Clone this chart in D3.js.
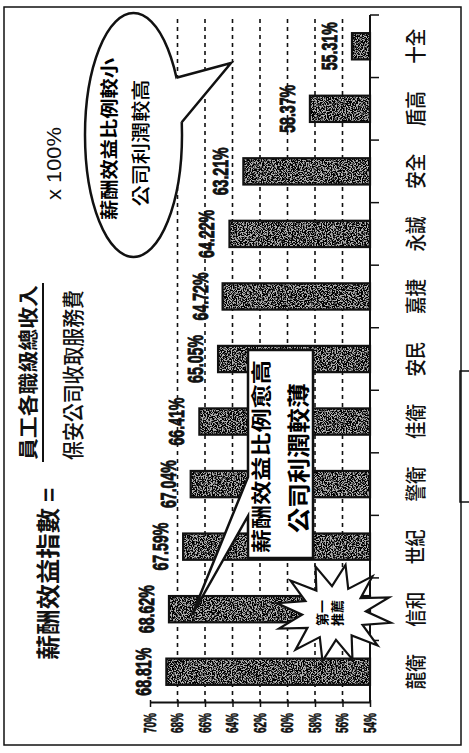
<!DOCTYPE html>
<html>
<head>
<meta charset="utf-8">
<script src="https://cdn.jsdelivr.net/npm/d3@7"></script>
<style>
  html, body { margin: 0; padding: 0; background: #fff; }
  svg { display: block; }
</style>
</head>
<body>
<script>
// data
var categories = ["龍衛", "信和", "世紀", "警衛", "佳衛", "安民", "嘉捷", "永誠", "安全", "盾高", "十全"];
var values = [68.81, 68.62, 67.59, 67.04, 66.41, 65.05, 64.72, 64.22, 63.21, 58.37, 55.31];
var valueTicks = [70, 68, 66, 64, 62, 60, 58, 56, 54];
var gridTicks = [68, 66, 64, 62, 60, 58, 56];

var cjk = "'Noto Sans CJK TC', 'Noto Sans CJK SC', sans-serif";
var narrow = "'Liberation Sans Narrow', 'Liberation Sans', Arial, sans-serif";

// the page is a landscape chart turned on its side
var svg = d3.select("body").append("svg").attr("width", 469).attr("height", 753);

var defs = svg.append("defs");
var grain = defs.append("filter").attr("id", "grain")
	.attr("x", 0).attr("y", 0).attr("width", 1).attr("height", 1)
	.attr("color-interpolation-filters", "sRGB");
grain.append("feTurbulence").attr("type", "fractalNoise").attr("baseFrequency", 0.8)
	.attr("numOctaves", 2).attr("seed", 7).attr("result", "noise");
grain.append("feColorMatrix").attr("in", "noise").attr("type", "matrix")
	.attr("values", "0 0 0 0 0  0 0 0 0 0  0 0 0 0 0  8 0 0 0 -3.4").attr("result", "dots");
grain.append("feComposite").attr("in", "dots").attr("in2", "SourceAlpha").attr("operator", "in").attr("result", "clip");
var merge = grain.append("feMerge");
merge.append("feMergeNode").attr("in", "SourceGraphic");
merge.append("feMergeNode").attr("in", "clip");

var g = svg.append("g").attr("transform", "translate(0,753) rotate(-90)");

var x = d3.scaleBand().domain(categories).range([50, 738]).paddingInner(0.58).paddingOuter(0.29);
var y = d3.scaleLinear().domain([54, 70]).range([370, 150]);

// squeeze a text to a given width
function squeeze(sel, w) {
	sel.each(function () {
		var t = d3.select(this);
		var len = this.getComputedTextLength();
		var cx = +t.attr("data-x"), cy = +t.attr("data-y");
		t.attr("transform", "translate(" + cx + "," + cy + ") scale(" + (w / len) + ",1)");
	});
}

// frame
g.append("rect").attr("x", 8).attr("y", 4).attr("width", 738).attr("height", 457)
	.attr("fill", "none").attr("stroke", "#111").attr("stroke-width", 1.5);
g.append("rect").attr("x", 251).attr("y", 460).attr("width", 131).attr("height", 20)
	.attr("fill", "none").attr("stroke", "#111").attr("stroke-width", 1.5);

// dashed grid
g.append("g").selectAll("line").data(gridTicks).join("line")
	.attr("x1", 50).attr("x2", 738)
	.attr("y1", function (d) { return y(d); }).attr("y2", function (d) { return y(d); })
	.attr("stroke", "#111").attr("stroke-width", 1.6).attr("stroke-dasharray", "4,4");

// bars
var bars = g.append("g");
bars.append("g").attr("filter", "url(#grain)").selectAll("rect").data(values).join("rect")
	.attr("x", function (d, i) { return x(categories[i]); })
	.attr("y", function (d) { return y(d); })
	.attr("width", x.bandwidth())
	.attr("height", function (d) { return y(54) - y(d); })
	.attr("fill", "#b0b0b0");
bars.append("g").selectAll("rect").data(values).join("rect")
	.attr("x", function (d, i) { return x(categories[i]); })
	.attr("y", function (d) { return y(d); })
	.attr("width", x.bandwidth())
	.attr("height", function (d) { return y(54) - y(d); })
	.attr("fill", "none").attr("stroke", "#111").attr("stroke-width", 2.2);

// value labels
g.append("g").selectAll("text").data(values).join("text")
	.attr("data-x", function (d, i) { return x(categories[i]) + x.bandwidth() / 2; })
	.attr("data-y", function (d) { return y(d) - 15; })
	.attr("text-anchor", "middle")
	.style("font-family", narrow).style("font-weight", "bold").style("font-size", "22px")
	.attr("fill", "#111").attr("stroke", "#111").attr("stroke-width", 0.9)
	.text(function (d) { return d.toFixed(2) + "%"; })
	.call(squeeze, 48);

// category axis
g.append("line").attr("x1", 50).attr("x2", 738).attr("y1", 370).attr("y2", 370)
	.attr("stroke", "#111").attr("stroke-width", 2);
g.append("g").selectAll("line").data(d3.range(1, categories.length + 1)).join("line")
	.attr("x1", function (k) { return 50 + k * x.step(); })
	.attr("x2", function (k) { return 50 + k * x.step(); })
	.attr("y1", 370).attr("y2", 379)
	.attr("stroke", "#111").attr("stroke-width", 1.5);
var catAxis = g.append("g").attr("transform", "translate(0,423)")
	.call(d3.axisBottom(x).tickSize(0).tickPadding(0));
catAxis.select(".domain").remove();
catAxis.selectAll("text").attr("dy", 0).attr("y", 0)
	.style("font-family", cjk).style("font-weight", 500).style("font-size", "21px").attr("fill", "#111")
	.attr("textLength", 35).attr("lengthAdjust", "spacingAndGlyphs");

// value axis
var valAxis = g.append("g").attr("transform", "translate(50,0)")
	.call(d3.axisLeft(y).tickValues(valueTicks).tickSizeInner(4).tickSizeOuter(0).tickPadding(6)
		.tickFormat(function (d) { return d + "%"; }));
valAxis.select(".domain").attr("stroke", "#111").attr("stroke-width", 1.8);
valAxis.selectAll(".tick line").attr("x1", 3).attr("stroke", "#111").attr("stroke-width", 1.5);
valAxis.selectAll("text")
	.style("font-family", narrow).style("font-weight", "bold").style("font-size", "17px")
	.attr("fill", "#111").attr("stroke", "#111").attr("stroke-width", 0.6)
	.attr("textLength", 20).attr("lengthAdjust", "spacingAndGlyphs");

// formula
var formula = g.append("g").style("font-family", cjk).attr("fill", "#111");
formula.append("text").attr("x", 93).attr("y", 57).style("font-size", "24px").style("font-weight", 700)
	.attr("textLength", 152).attr("lengthAdjust", "spacingAndGlyphs").text("薪酬效益指數");
formula.append("text").attr("x", 251).attr("y", 58).style("font-size", "24px").style("font-weight", 700)
	.text("=");
formula.append("text").attr("x", 293).attr("y", 36).style("font-size", "20px").style("font-weight", 700)
	.attr("textLength", 175).attr("lengthAdjust", "spacingAndGlyphs").text("員工各職級總收入");
formula.append("line").attr("x1", 291).attr("x2", 470).attr("y1", 43).attr("y2", 43)
	.attr("stroke", "#111").attr("stroke-width", 2);
formula.append("text").attr("x", 293).attr("y", 81).style("font-size", "22px").style("font-weight", 500)
	.attr("textLength", 170).attr("lengthAdjust", "spacingAndGlyphs").text("保安公司收取服務費");
formula.append("text").attr("x", 553).attr("y", 61).style("font-family", "'Liberation Sans', Arial, sans-serif")
	.style("font-size", "21px").attr("textLength", 73).attr("lengthAdjust", "spacingAndGlyphs").text("x 100%");

// oval callout
var ov = { cx: 618, cy: 133.5, rx: 122, ry: 48.5 };
function onOval(deg) {
	var t = deg * Math.PI / 180;
	return [ov.cx + ov.rx * Math.cos(t), ov.cy + ov.ry * Math.sin(t)];
}
var ob1 = onOval(62), ob2 = onOval(84), otip = [690, 231];
g.append("ellipse").attr("cx", ov.cx).attr("cy", ov.cy).attr("rx", ov.rx).attr("ry", ov.ry)
	.attr("fill", "#fff").attr("stroke", "#111").attr("stroke-width", 2.5);
g.append("path").attr("d", d3.line()([ob1, otip, ob2, [ov.cx + 20, ov.cy + 20]]) + "Z").attr("fill", "#fff");
g.append("path").attr("d", d3.line()([ob1, otip, ob2])).attr("fill", "none")
	.attr("stroke", "#111").attr("stroke-width", 2.5).attr("stroke-linejoin", "miter");
g.append("text").attr("x", 614).attr("y", 116).attr("text-anchor", "middle")
	.style("font-family", cjk).style("font-size", "18px").style("font-weight", 700)
	.attr("textLength", 162).attr("lengthAdjust", "spacingAndGlyphs").text("薪酬效益比例較小");
g.append("text").attr("x", 610).attr("y", 148).attr("text-anchor", "middle")
	.style("font-family", cjk).style("font-size", "19px").style("font-weight", 500)
	.attr("textLength", 127).attr("lengthAdjust", "spacingAndGlyphs").text("公司利潤較高");

// boxed callout pointing at 信和
var bx0 = 195, bx1 = 403, by0 = 248, by1 = 313;
g.append("path")
	.attr("d", d3.line()([[bx0, by0], [237, by0], [138, 192], [276, by0], [bx1, by0], [bx1, by1], [bx0, by1]]) + "Z")
	.attr("fill", "#fff").attr("stroke", "#111").attr("stroke-width", 2.5).attr("stroke-linejoin", "miter");
g.append("text").attr("x", 200).attr("y", 269)
	.style("font-family", cjk).style("font-size", "20px").style("font-weight", 700)
	.attr("textLength", 193).attr("lengthAdjust", "spacingAndGlyphs").text("薪酬效益比例愈高");
g.append("text").attr("x", 220).attr("y", 307)
	.style("font-family", cjk).style("font-size", "23px").style("font-weight", 700)
	.attr("textLength", 150).attr("lengthAdjust", "spacingAndGlyphs").text("公司利潤較薄");

// starburst
var sc = [140, 334], spikes = 12;
var starPts = d3.range(spikes * 2).map(function (k) {
	var a = k * Math.PI / spikes + 0.2;
	var r = k % 2 === 0 ? 1 : 0.55;
	return [sc[0] + 49 * r * Math.cos(a), sc[1] + 58 * r * Math.sin(a)];
});
g.append("path").attr("d", d3.line()(starPts) + "Z")
	.attr("fill", "#fff").attr("stroke", "#111").attr("stroke-width", 2.2).attr("stroke-linejoin", "miter");
g.append("text").attr("x", 140).attr("y", 327).attr("text-anchor", "middle")
	.style("font-family", cjk).style("font-size", "13px").style("font-weight", 700).text("第一");
g.append("text").attr("x", 140).attr("y", 342).attr("text-anchor", "middle")
	.style("font-family", cjk).style("font-size", "13px").style("font-weight", 700).text("推薦");
</script>
</body>
</html>
